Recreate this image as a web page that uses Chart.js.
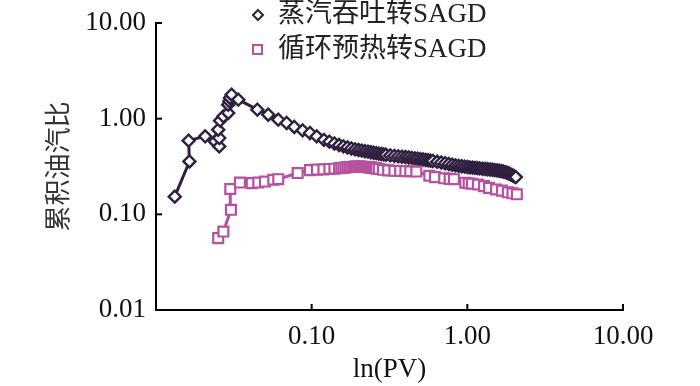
<!DOCTYPE html>
<html>
<head>
<meta charset="utf-8">
<script src="https://cdn.jsdelivr.net/npm/chart.js@4.4.1/dist/chart.umd.min.js"></script>
<style>
html,body{margin:0;padding:0;background:#fff;}
#wrap{width:700px;height:386px;position:relative;}
</style>
</head>
<body>
<div id="wrap"><canvas id="ratioChart"></canvas></div>
<script>
// 蒸汽吞吐转SAGD
const steamX=[0.0132,0.0164,0.0162,0.0207,0.0239,0.0255,0.0255,0.0251,0.0258,0.0271,0.0291,0.0291,0.0296,0.0299,0.0306,0.0338,
0.0448,0.0526,0.061,0.0691,0.0773,0.0875,0.0975,0.1077,
0.12,0.13,0.14,0.15,0.16,0.17,0.18,0.19,0.20,0.21,0.22,0.23,0.24,0.25,0.26,0.27,0.28,0.29,0.30,
0.32,0.34,0.36,0.38,0.40,0.42,0.44,0.46,0.48,0.50,0.52,0.54,0.56,0.58,0.60,
0.64,0.68,0.72,0.76,0.80,0.84,0.88,0.92,0.96,1.00,1.04,1.08,1.12,1.16,1.20,
1.25,1.30,1.35,1.40,1.45,1.50,1.55,1.60,1.65,1.70,1.75,1.80,1.85,1.90,1.95,2.00,2.05];
const steamY=[0.153,0.357,0.589,0.653,0.578,0.513,0.628,0.767,0.953,1.057,1.148,1.40,1.52,1.647,1.78,1.58,
1.242,1.10,0.977,0.901,0.819,0.754,0.708,0.653,
0.600,0.575,0.550,0.530,0.513,0.500,0.488,0.478,0.470,0.463,0.457,0.452,0.446,0.441,0.436,0.431,0.427,0.423,0.419,
0.413,0.408,0.404,0.400,0.397,0.393,0.389,0.385,0.381,0.377,0.374,0.370,0.367,0.364,0.361,
0.354,0.348,0.342,0.336,0.330,0.325,0.321,0.318,0.315,0.312,0.310,0.308,0.306,0.304,0.302,
0.300,0.298,0.296,0.294,0.292,0.290,0.288,0.285,0.283,0.280,0.276,0.272,0.267,0.261,0.256,0.250,0.245];

// 循环预热转SAGD
const preheatX=[0.0251,0.0271,0.0303,0.0300,0.0346,0.0412,0.0454,0.0501,0.0567,0.0610,0.0813,0.0975,0.108,0.119,0.130,0.140,
0.150,0.155,0.160,0.165,0.170,0.175,0.180,0.185,0.190,0.195,0.200,0.205,0.210,0.215,0.220,0.225,0.230,0.235,0.240,0.245,0.250,0.255,0.260,
0.27,0.287,0.31,0.34,0.37,0.40,0.43,0.47,0.57,0.62,0.71,0.77,0.82,0.97,1.02,1.07,1.17,1.28,1.38,1.53,1.67,1.82,1.95,2.08];
const preheatY=[0.0564,0.0661,0.1115,0.184,0.215,0.212,0.215,0.220,0.230,0.233,0.270,0.290,0.293,0.295,0.298,0.300,
0.303,0.305,0.307,0.309,0.311,0.312,0.313,0.314,0.315,0.315,0.315,0.315,0.314,0.314,0.313,0.312,0.311,0.310,0.309,0.307,0.306,0.304,0.302,
0.298,0.292,0.288,0.285,0.284,0.283,0.282,0.280,0.253,0.245,0.238,0.235,0.233,0.214,0.211,0.209,0.205,0.197,0.189,0.182,0.177,0.170,0.166,0.162];

const xTicks=[0.1,1,10];
const yTicks=[0.01,0.1,1,10];
const seriesNames=["蒸汽吞吐转SAGD","循环预热转SAGD"];

const darkColor="#2f2040";
const pinkColor="#b7509f";
const serif="'Liberation Serif','Noto Sans CJK SC',serif";

function toPoints(xs,ys){
  return xs.map((v,i)=>({x:v,y:ys[i]}));
}

// inward tick marks on both axes
const inwardTicks={
  id:"inwardTicks",
  afterDraw(chart){
    const {ctx,chartArea:a,scales:{x,y}}=chart;
    ctx.save();
    ctx.strokeStyle="#000";
    ctx.lineWidth=2;
    xTicks.forEach(v=>{
      const px=x.getPixelForValue(v);
      ctx.beginPath();ctx.moveTo(px,a.bottom);ctx.lineTo(px,a.bottom-6);ctx.stroke();
    });
    yTicks.forEach(v=>{
      const py=y.getPixelForValue(v);
      ctx.beginPath();ctx.moveTo(a.left,py);ctx.lineTo(a.left+6,py);ctx.stroke();
    });
    ctx.restore();
  }
};

// legend at top of plot
const topLegend={
  id:"topLegend",
  afterDraw(chart){
    const ctx=chart.ctx;
    ctx.save();
    ctx.lineWidth=2;
    // diamond
    ctx.strokeStyle=darkColor;
    ctx.fillStyle="#fff";
    ctx.beginPath();
    ctx.moveTo(258,10);ctx.lineTo(263,15);ctx.lineTo(258,20);ctx.lineTo(253,15);ctx.closePath();
    ctx.fill();ctx.stroke();
    // square
    ctx.strokeStyle=pinkColor;
    ctx.beginPath();
    ctx.rect(253,45,9,9);
    ctx.fill();ctx.stroke();
    ctx.fillStyle="#222";
    ctx.font="27px "+serif;
    ctx.textAlign="left";
    ctx.textBaseline="middle";
    ctx.fillText(seriesNames[0],278,15);
    ctx.fillText(seriesNames[1],278,50);
    ctx.restore();
  }
};

new Chart(document.getElementById("ratioChart"),{
  type:"scatter",
  data:{
    datasets:[{
      label:seriesNames[0],
      data:toPoints(steamX,steamY),
      showLine:true,
      borderColor:darkColor,
      borderWidth:3,
      pointStyle:"rectRot",
      pointRadius:6,
      pointBorderWidth:2.4,
      pointBackgroundColor:"#fff",
      pointBorderColor:darkColor,
      order:1
    },{
      label:seriesNames[1],
      data:toPoints(preheatX,preheatY),
      showLine:true,
      borderColor:pinkColor,
      borderWidth:3,
      pointStyle:"rect",
      pointRadius:7,
      pointBorderWidth:2.2,
      pointBackgroundColor:"#fff",
      pointBorderColor:pinkColor,
      order:0
    }]
  },
  options:{
    responsive:true,
    maintainAspectRatio:false,
    animation:false,
    layout:{padding:{top:23,right:77,left:0,bottom:0}},
    plugins:{
      legend:{display:false},
      tooltip:{enabled:false}
    },
    scales:{
      x:{
        type:"logarithmic",
        min:0.01,
        max:10,
        afterBuildTicks:s=>{s.ticks=xTicks.map(v=>({value:v}));},
        afterFit:s=>{s.height=76;},
        grid:{display:false},
        border:{color:"#000",width:2},
        ticks:{
          padding:3,
          color:"#111",
          font:{family:serif,size:27},
          maxRotation:0,
          callback:v=>Number(v).toFixed(2)
        },
        title:{
          display:true,
          text:"ln(PV)",
          color:"#111",
          font:{family:serif,size:27},
          padding:{top:0,bottom:0}
        }
      },
      y:{
        type:"logarithmic",
        min:0.01,
        max:10,
        afterBuildTicks:s=>{s.ticks=yTicks.map(v=>({value:v}));},
        afterFit:s=>{s.width=156;},
        grid:{display:false},
        border:{color:"#000",width:2},
        ticks:{
          padding:2,
          color:"#111",
          font:{family:serif,size:27},
          callback:v=>Number(v).toFixed(2)
        },
        title:{
          display:true,
          text:"累积油汽比",
          color:"#333",
          font:{family:"'Noto Sans CJK SC',sans-serif",size:26},
          padding:{top:42,bottom:0}
        }
      }
    }
  },
  plugins:[inwardTicks,topLegend]
});
</script>
</body>
</html>
